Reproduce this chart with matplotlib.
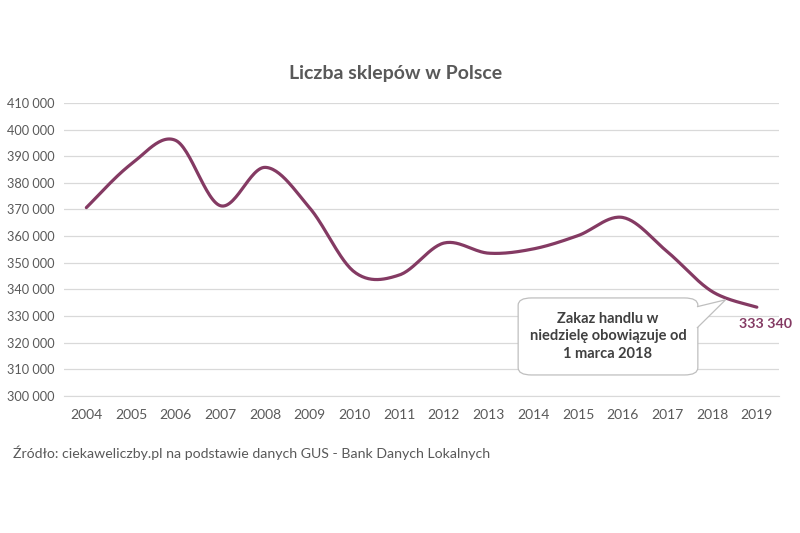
import numpy as np
import matplotlib
matplotlib.use("Agg")
import matplotlib.pyplot as plt
from matplotlib.patches import FancyBboxPatch, Polygon

plt.rcParams['font.family'] = ['Lato', 'DejaVu Sans']

# data
years = [2004, 2005, 2006, 2007, 2008, 2009, 2010, 2011,
         2012, 2013, 2014, 2015, 2016, 2017, 2018, 2019]
shops = [370700, 387000, 395900, 371400, 385800, 370500, 346500, 345400,
         357400, 353600, 355200, 360200, 367000, 354100, 339200, 333340]
yticks = list(range(300000, 410001, 10000))
title = 'Liczba sklepów w Polsce'
source = 'Źródło: ciekaweliczby.pl na podstawie danych GUS - Bank Danych Lokalnych'
note = 'Zakaz handlu w\nniedzielę obowiązuje od\n1 marca 2018'
last_label = '333 340'

line_col = '#843A63'
grey = '#595959'


# Excel-like smoothing (Catmull-Rom through the points)
def smooth(x, y, n=30):
    x = np.asarray(x, float)
    y = np.asarray(y, float)
    px = np.concatenate([[x[0]], x, [x[-1]]])
    py = np.concatenate([[y[0]], y, [y[-1]]])
    xs, ys = [], []
    t = np.linspace(0, 1, n)
    for i in range(1, len(px) - 2):
        for arr, out in ((px, xs), (py, ys)):
            p0, p1, p2, p3 = arr[i - 1], arr[i], arr[i + 1], arr[i + 2]
            c1 = p1 + (p2 - p0) / 6
            c2 = p2 - (p3 - p1) / 6
            out.extend((1 - t) ** 3 * p1 + 3 * (1 - t) ** 2 * t * c1
                       + 3 * (1 - t) * t ** 2 * c2 + t ** 3 * p2)
    return np.array(xs), np.array(ys)


fig = plt.figure(figsize=(8, 5.33), dpi=100)
ax = fig.add_axes([0.08, 0.257, 0.894, 0.55])

sx, sy = smooth(years, shops)
ax.plot(sx, sy, color=line_col, lw=2.3, solid_capstyle='round', zorder=3)

ax.set_xlim(2003.5, 2019.5)
ax.set_ylim(300000, 410000)
ax.set_yticks(yticks)
ax.set_yticklabels([f'{v:,}'.replace(',', ' ') for v in yticks])
ax.set_xticks(years)
ax.set_xticklabels([str(y) for y in years])
ax.grid(axis='y', color='#d9d9d9', lw=0.9)
ax.set_axisbelow(True)
for s in ax.spines.values():
    s.set_visible(False)
ax.spines['bottom'].set_visible(True)
ax.spines['bottom'].set_color('#d9d9d9')
ax.tick_params(length=0, labelsize=10, colors=grey)
ax.tick_params(axis='y', pad=7, labelsize=9.2)
ax.tick_params(axis='x', pad=9)

fig.text(0.495, 0.862, title, ha='center', va='center', fontsize=14,
         fontweight='bold', color=grey)
fig.text(0.016, 0.15, source, ha='left', va='center', fontsize=10.2, color=grey)

# value label of the last point
ax.text(years[-1] - 0.4, shops[-1] - 6300, last_label, ha='left', va='center',
        fontsize=10.3, fontweight='bold', color=line_col)

# callout box
bx0, bx1 = 2013.66, 2017.68
by0, by1 = 307900, 336800
box = FancyBboxPatch((bx0, by0), bx1 - bx0, by1 - by0,
                     boxstyle='round,pad=0,rounding_size=0.3',
                     mutation_aspect=9000, fc='white', ec='#bfbfbf', lw=0.9,
                     zorder=4)
ax.add_patch(box)
wedge = Polygon([(bx1 - 0.02, 333500), (2018.3, 336100), (bx1 - 0.02, 325500)],
                closed=False, fc='white', ec='#bfbfbf', lw=0.9, zorder=5)
ax.add_patch(wedge)
ax.add_patch(Polygon([(bx1 - 0.03, 333600), (2018.25, 336000), (bx1 - 0.03, 325400)],
                     closed=True, fc='white', ec='none', zorder=4.5))
ax.text((bx0 + bx1) / 2, (by0 + by1) / 2, note, ha='center', va='center',
        fontsize=10.5, fontweight='bold', color='#404040', linespacing=1.35,
        zorder=6)

fig.savefig('out.png', dpi=100)
